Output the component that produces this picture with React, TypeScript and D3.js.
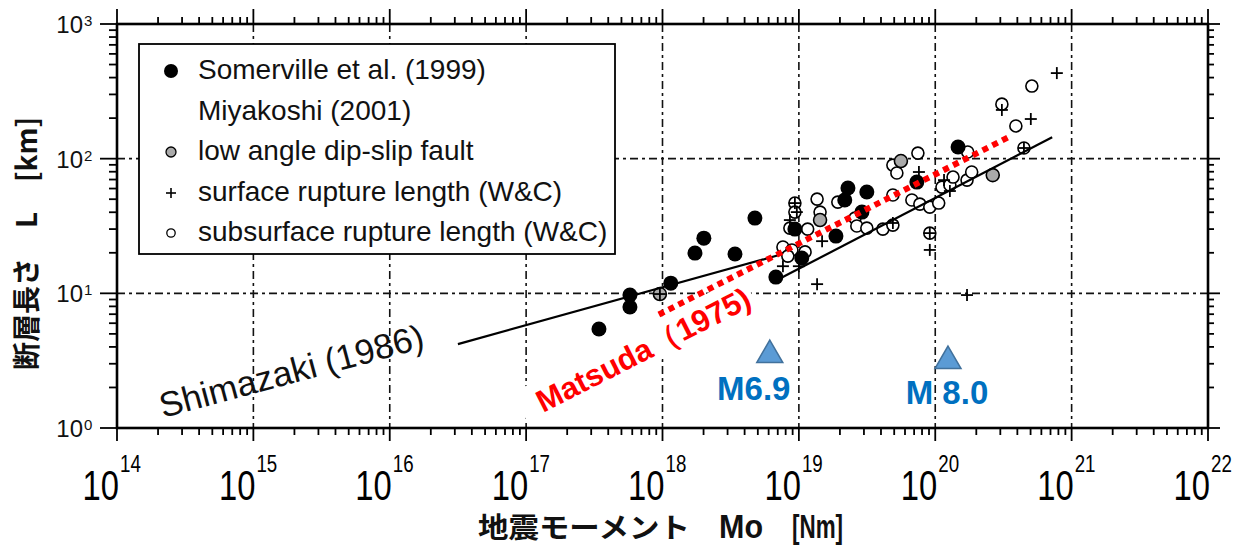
import React from 'react';
import * as d3 from 'd3';

const W = 1253;
const H = 548;

// tick exponents
const xTickExps = [14, 15, 16, 17, 18, 19, 20, 21, 22];
const yTickExps = [0, 1, 2, 3];

// legend labels
const legendLabels = [
  'Somerville et al. (1999)',
  'Miyakoshi (2001)',
  'low angle dip-slip fault',
  'surface rupture length (W&C)',
  'subsurface rupture length (W&C)',
];

// data: [seismic moment Mo (Nm), fault length L (km)]
const somerville: [number, number][] = [
  [3.42e17, 5.43], [5.77e17, 9.71], [5.77e17, 7.91], [1.15e18, 11.9], [1.73e18, 19.9],
  [2.01e18, 25.7], [3.40e18, 19.6], [4.76e18, 36.2], [6.78e18, 13.2], [9.35e18, 30.0],
  [1.05e19, 18.3], [1.87e19, 26.6], [2.29e19, 60.5], [2.17e19, 49.3], [3.15e19, 56.5],
  [2.90e19, 40.1], [7.33e19, 67.0], [1.47e20, 122],
];

const lowAngle: [number, number][] = [
  [9.57e17, 9.88], [1.43e19, 35.0], [5.60e19, 96.0], [2.64e20, 75.5],
];

const subsurface: [number, number][] = [
  [9.35e18, 46.8], [9.35e18, 40.1], [1.36e19, 50.1], [1.43e19, 40.1], [1.16e19, 30.0],
  [8.59e18, 30.5], [7.64e18, 22.1], [8.89e18, 21.0], [1.11e19, 20.3], [8.30e18, 18.9],
  [1.93e19, 47.6], [2.58e19, 36.2], [2.66e19, 31.6], [3.15e19, 30.5], [4.13e19, 30.0],
  [4.89e19, 32.1], [4.89e19, 89.6], [5.23e19, 78.2], [7.46e19, 110], [4.89e19, 53.7],
  [6.74e19, 49.3], [7.71e19, 46.0], [9.12e19, 43.7], [1.06e20, 46.8], [1.12e20, 61.5],
  [1.28e20, 63.7], [1.35e20, 73.0], [1.71e20, 69.3], [1.85e20, 79.6], [1.73e20, 112],
  [3.08e20, 254], [5.11e20, 346], [3.90e20, 175], [4.47e20, 120], [9.12e19, 28.0],
];

const surface: [number, number][] = [
  [8.59e18, 35.0], [7.64e18, 15.9], [1.0e19, 15.9], [1.48e19, 24.4], [1.36e19, 11.7],
  [9.66e18, 40.1], [7.59e19, 79.6], [1.16e20, 69.3], [1.28e20, 57.5], [4.89e19, 33.3],
  [9.12e19, 21.0], [1.71e20, 9.71], [5.02e20, 197], [7.79e20, 432], [3.08e20, 230],
  [4.47e20, 120], [9.12e19, 28.0], [9.57e17, 9.88], [9.35e18, 46.8],
];

// Shimazaki (1986) two segments, Matsuda (1975) line
const shimazakiSmall: [number, number][] = [[3.16e16, 4.2], [7.5e18, 19.5]];
const shimazakiLarge: [number, number][] = [[7.5e18, 13.1], [7.2e20, 144]];
const matsuda: [number, number][] = [[9.4e17, 6.96], [3.52e20, 146]];

// magnitude markers
const markerLabels = ['M6.9', 'M 8.0'];
const markerM0 = [6.12e18, 1.24e20];
const markerL = [3.48, 3.14];

const FONT = '"Liberation Sans", Arial, Helvetica, sans-serif';
const JFONT = '"Noto Sans CJK JP", "Noto Sans", sans-serif';

export default function App() {
  const left = 117, right = 1208, top = 24, bottom = 428;
  const x = d3.scaleLog().domain([1e14, 1e22]).range([left, right]);
  const y = d3.scaleLog().domain([1, 1000]).range([bottom, top]);
  const isMajor = (t: number) => Math.abs(Math.log10(t) - Math.round(Math.log10(t))) < 1e-9;
  const xt = x.ticks();
  const yt = y.ticks();
  const line = d3.line<[number, number]>().x(d => x(d[0])).y(d => y(d[1]));
  const tri = d3.symbol().type(d3.symbolTriangle).size(293)() as string;

  const gridDash = '8,4,3,4';

  return (
    <svg width={W} height={H} viewBox={`0 0 ${W} ${H}`}
      style={{ position: 'absolute', left: 0, top: 0, background: '#fff' }}>
      <rect x={0} y={0} width={W} height={H} fill="#fff" />
      {/* grid */}
      <g stroke="#111" strokeWidth={1.6} strokeDasharray={gridDash} fill="none">
        {xTickExps.slice(1, -1).map(e => (
          <line key={'gx' + e} x1={x(10 ** e)} x2={x(10 ** e)} y1={top} y2={bottom} />
        ))}
        {yTickExps.slice(1, -1).map(e => (
          <line key={'gy' + e} x1={left} x2={right} y1={y(10 ** e)} y2={y(10 ** e)} />
        ))}
      </g>

      {/* legend */}
      <g>
        <rect x={139} y={44} width={476} height={210} fill="#fff" stroke="#000" strokeWidth={1.8} />
        <circle cx={171} cy={71} r={7} fill="#000" />
        <circle cx={171} cy={152} r={5} fill="#aaa" stroke="#000" strokeWidth={1.3} />
        <g stroke="#000" strokeWidth={1.6}>
          <line x1={166} x2={176} y1={193} y2={193} />
          <line x1={171} x2={171} y1={188} y2={198} />
        </g>
        <circle cx={171} cy={233} r={4.2} fill="#fff" stroke="#000" strokeWidth={1.3} />
        {legendLabels.map((s, i) => (
          <text key={'lg' + i} x={198} y={79 + i * 40.6} fontFamily={FONT} fontSize={28} fill="#111">{s}</text>
        ))}
      </g>

      {/* data */}
      <g>
        {subsurface.map((d, i) => (
          <circle key={'ss' + i} cx={x(d[0])} cy={y(d[1])} r={6} fill="#fff" stroke="#000" strokeWidth={1.6} />
        ))}
        {lowAngle.map((d, i) => (
          <circle key={'la' + i} cx={x(d[0])} cy={y(d[1])} r={6.5} fill="#aaa" stroke="#000" strokeWidth={1.6} />
        ))}
        {somerville.map((d, i) => (
          <circle key={'sv' + i} cx={x(d[0])} cy={y(d[1])} r={7.5} fill="#000" />
        ))}
        <g stroke="#000" strokeWidth={1.8}>
          {surface.map((d, i) => {
            const cx = x(d[0]), cy = y(d[1]);
            return (
              <g key={'sf' + i}>
                <line x1={cx - 6} x2={cx + 6} y1={cy} y2={cy} />
                <line x1={cx} x2={cx} y1={cy - 6} y2={cy + 6} />
              </g>
            );
          })}
        </g>
      </g>

      {/* Shimazaki lines */}
      <path d={line(shimazakiSmall) as string} fill="none" stroke="#000" strokeWidth={2.2} />
      <path d={line(shimazakiLarge) as string} fill="none" stroke="#000" strokeWidth={2.2} />
      <g transform="translate(163,418) rotate(-15)">
        <text x={0} y={0} fontFamily={FONT} fontSize={35} fill="#111">Shimazaki (1986)</text>
      </g>

      {/* Matsuda */}
      <g transform="translate(543,413) rotate(-27)">
        <rect x={-18} y={-32} width={258} height={38} fill="#fff" />
        <text x={0} y={0} fontFamily={FONT} fontWeight="bold" fontSize={31} fill="#ff0000">Matsuda（1975)</text>
      </g>
      <path d={line(matsuda) as string} fill="none" stroke="#ff0000" strokeWidth={6} strokeDasharray="6,5" />

      {/* ticks */}
      <g stroke="#000" strokeWidth={1.8}>
        {xt.map((t, i) => {
          const m = isMajor(t);
          return (
            <g key={'xt' + i}>
              <line x1={x(t)} x2={x(t)} y1={bottom} y2={bottom + (m ? 13 : 7)} />
              <line x1={x(t)} x2={x(t)} y1={top} y2={top - (m ? 15 : 7)} />
            </g>
          );
        })}
        {yt.map((t, i) => {
          const m = isMajor(t);
          return (
            <g key={'yt' + i}>
              <line x1={left} x2={left - (m ? 17 : 8)} y1={y(t)} y2={y(t)} />
              <line x1={right} x2={right + (m ? 12 : 6)} y1={y(t)} y2={y(t)} />
            </g>
          );
        })}
      </g>
      {/* frame */}
      <rect x={left} y={top} width={right - left} height={bottom - top} fill="none" stroke="#000" strokeWidth={2.6} />

      {/* magnitude markers */}
      {markerLabels.map((s, i) => {
        const cx = x(markerM0[i]), cy = y(markerL[i]);
        const dx = i === 0 ? -16 : -1;
        const dy = i === 0 ? 45 : 43;
        return (
          <g key={'mk' + i}>
            <path d={tri} transform={`translate(${cx},${cy})`} fill="#5b9bd5" stroke="#41719c" strokeWidth={1.5} />
            <text x={cx + dx} y={cy + dy} textAnchor="middle" fontFamily={FONT} fontWeight="bold" fontSize={33} fill="#0070c0">{s}</text>
          </g>
        );
      })}

      {/* y tick labels */}
      {yTickExps.map(e => {
        const ty = y(10 ** e);
        return (
          <g key={'yl' + e} fontFamily={FONT} fill="#111">
            <text x={83} y={ty + 9} textAnchor="end" fontSize={24}>10</text>
            <text x={84} y={ty + 2} fontSize={15}>{e}</text>
          </g>
        );
      })}
      {/* x tick labels */}
      {xTickExps.map(e => {
        const tx = x(10 ** e);
        return (
          <g key={'xl' + e} fontFamily={FONT} fill="#000">
            <text transform={`translate(${tx + 2},500) scale(0.78,1)`} textAnchor="end" fontSize={42}>10</text>
            <text transform={`translate(${tx + 3},472) scale(0.78,1)`} fontSize={24}>{e}</text>
          </g>
        );
      })}

      {/* axis titles */}
      <text x={478} y={538} fontFamily={JFONT} fontWeight="bold" fontSize={28} fill="#111"
        textLength={212} lengthAdjust="spacingAndGlyphs">地震モーメント</text>
      <text x={719} y={538} fontFamily={FONT} fontWeight="bold" fontSize={33} fill="#111"
        textLength={44} lengthAdjust="spacingAndGlyphs">Mo</text>
      <text x={792} y={538} fontFamily={FONT} fontWeight="bold" fontSize={33} fill="#111"
        textLength={51} lengthAdjust="spacingAndGlyphs">[Nm]</text>
      <g transform="translate(25,370) rotate(-90)">
        <text y={0} dominantBaseline="central" fontFamily={JFONT} fontWeight="bold" fontSize={28} fill="#111">
          <tspan x={0}>断層長さ</tspan>
          <tspan x={142}>L</tspan>
          <tspan x={188}>[km]</tspan>
        </text>
      </g>
    </svg>
  );
}
